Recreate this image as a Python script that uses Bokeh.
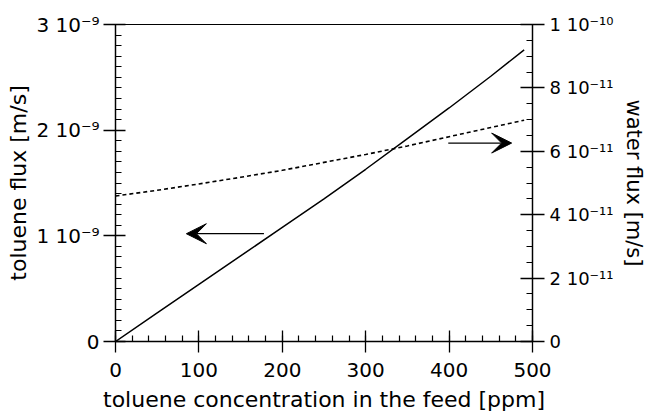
from bokeh.plotting import figure
from bokeh.models import Range1d, LinearAxis, FixedTicker, Arrow, VeeHead
from bokeh.embed import file_html
from bokeh.resources import INLINE

# toluene concentration in the feed [ppm]
concentration = [0, 50, 100, 150, 200, 250, 300, 350, 400, 450, 490]
# toluene flux [m/s] (left axis)
toluene_flux = [0.0, 0.27e-9, 0.54e-9, 0.81e-9, 1.08e-9, 1.35e-9,
                1.63e-9, 1.92e-9, 2.21e-9, 2.51e-9, 2.76e-9]
# water flux [m/s] (right axis)
water_flux = [4.59e-11, 4.77e-11, 4.97e-11, 5.18e-11, 5.40e-11, 5.65e-11,
              5.90e-11, 6.17e-11, 6.46e-11, 6.75e-11, 6.98e-11]

# axis ticks and their labels
x_ticks = [0, 100, 200, 300, 400, 500]
x_tick_labels = ["0", "100", "200", "300", "400", "500"]
left_ticks = [0, 1e-9, 2e-9, 3e-9]
left_tick_labels = ["0", "1 10⁻⁹", "2 10⁻⁹", "3 10⁻⁹"]
right_ticks = [0, 2e-11, 4e-11, 6e-11, 8e-11, 1e-10]
right_tick_labels = ["0", "2 10⁻¹¹", "4 10⁻¹¹", "6 10⁻¹¹", "8 10⁻¹¹", "1 10⁻¹⁰"]

# arrows pointing each curve to its axis: (x_start, x_end, y)
left_arrow = (178, 85, 1.02e-9)
right_arrow = (399, 475, 6.26e-11)

FONT = "DejaVu Sans"

p = figure(width=649, height=415,
           x_range=Range1d(0, 500), y_range=Range1d(0, 3e-9),
           x_axis_type=None, y_axis_type=None,
           output_backend="svg", toolbar_location=None,
           min_border_left=115, min_border_right=117,
           min_border_top=24, min_border_bottom=74)
p.extra_y_ranges = {"water": Range1d(0, 1e-10)}
p.grid.visible = False
p.outline_line_color = "black"
p.outline_line_width = 1.2
p.background_fill_color = "white"
p.border_fill_color = "white"


def style_axis(ax, ticks, labels, title, tick_in, tick_out,
               label_standoff, title_standoff, label_size, title_size):
    ax.major_label_overrides = dict(zip(ticks, labels))
    ax.axis_label = title
    ax.axis_line_width = 1.3
    ax.major_tick_line_width = 1.3
    ax.minor_tick_line_width = 1.2
    ax.major_tick_in = tick_in
    ax.major_tick_out = tick_out
    ax.minor_tick_in = 6
    ax.minor_tick_out = 0
    ax.major_label_standoff = label_standoff
    ax.axis_label_standoff = title_standoff
    ax.major_label_text_font = FONT
    ax.major_label_text_font_size = label_size
    ax.major_label_text_color = "black"
    ax.axis_label_text_font = FONT
    ax.axis_label_text_font_size = title_size
    ax.axis_label_text_font_style = "normal"
    ax.axis_label_text_color = "black"


x_axis = LinearAxis(ticker=FixedTicker(ticks=x_ticks,
                                       minor_ticks=list(range(0, 501, 20))))
style_axis(x_axis, x_ticks, x_tick_labels,
           "toluene concentration in the feed [ppm]", 11, 11, 10, 7, "20px", "22px")
p.add_layout(x_axis, "below")

y_axis = LinearAxis(ticker=FixedTicker(ticks=left_ticks,
                                       minor_ticks=[i * 1e-10 for i in range(31)]))
style_axis(y_axis, left_ticks, left_tick_labels,
           "toluene flux [m/s]", 10, 12, 4, 2, "20px", "22px")
p.add_layout(y_axis, "left")

w_axis = LinearAxis(y_range_name="water",
                    ticker=FixedTicker(ticks=right_ticks,
                                       minor_ticks=[i * 5e-12 for i in range(21)]))
style_axis(w_axis, right_ticks, right_tick_labels,
           "water flux [m/s]", 12, 12, 5, 5, "18px", "21px")
p.add_layout(w_axis, "right")

# curves
p.line(concentration, toluene_flux, line_color="black", line_width=1.5)
p.line(concentration, water_flux, y_range_name="water",
       line_color="black", line_width=1.6, line_dash="4 3")

# arrows
p.add_layout(Arrow(x_start=left_arrow[0], x_end=left_arrow[1],
                   y_start=left_arrow[2], y_end=left_arrow[2],
                   line_width=1.3, line_color="black",
                   end=VeeHead(size=20, fill_color="black", line_color="black")))
p.add_layout(Arrow(x_start=right_arrow[0], x_end=right_arrow[1],
                   y_start=right_arrow[2], y_end=right_arrow[2],
                   y_range_name="water",
                   line_width=1.3, line_color="black",
                   end=VeeHead(size=20, fill_color="black", line_color="black")))

open("out.html", "w").write(file_html(p, INLINE))
